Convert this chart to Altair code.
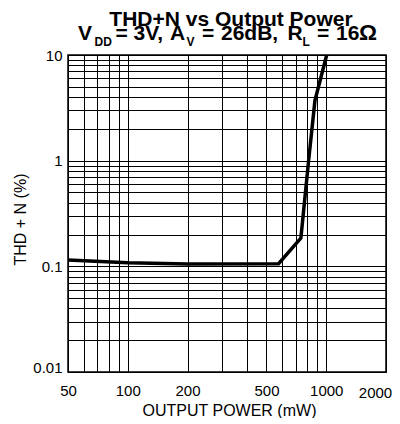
import altair as alt
import pandas as pd

# ---- data ----
power_mw = [50, 100, 200, 575, 745, 815, 877, 1005]
thd_pct = [0.115, 0.108, 0.105, 0.106, 0.185, 1.0, 3.7, 10.0]

x_grid = [50, 60, 70, 80, 90, 100, 200, 300, 400, 500, 600, 700, 800, 900, 1000, 2000]
x_labels = [50, 100, 200, 500, 1000, 2000]
y_grid = [0.01, 0.02, 0.03, 0.04, 0.05, 0.06, 0.07, 0.08, 0.09,
          0.1, 0.2, 0.3, 0.4, 0.5, 0.6, 0.7, 0.8, 0.9,
          1, 2, 3, 4, 5, 6, 7, 8, 9, 10]
y_labels = [0.01, 0.1, 1, 10]

title_line1 = "THD+N vs Output Power"
title2_text = ["V", "DD", "=", "3V,", "A", "V", "=", "26dB,", "R", "L", "=", "16", "Ω"]
title2_sub = [False, True, False, False, False, True, False, False, False, True, False, False, False]

x_title = "OUTPUT POWER (mW)"
y_title = "THD + N (%)"

# ---- layout (pixels, relative to plot origin) ----
title2_x = [10, 26.5, 47.5, 65.5, 102, 118.5, 134, 153, 219.5, 234.5, 249, 268, 291]
title2_size = [21, 12, 21, 21, 21, 12, 21, 21, 21, 12, 21, 21, 22.5]
FONT = "Liberation Sans, Arial, Helvetica, sans-serif"

df = pd.DataFrame({"power": power_mw, "thd": thd_pct})

x_label_list = ",".join(str(v) for v in x_labels)
y_label_list = ",".join(str(v) for v in y_labels)

x_axis = alt.Axis(
    values=x_grid,
    labelExpr=f"indexof([{x_label_list}], datum.value) >= 0 ? format(datum.value, '~g') : ''",
    title=x_title,
    titleFont=FONT, titleFontSize=16, titleFontWeight="normal", titleColor="black",
    titleX=161, titleY=43, titleBaseline="alphabetic", titleAlign="center",
    labelFont=FONT, labelFontSize=15, labelColor="black",
    labelBaseline="alphabetic",
    labelPadding={"condition": {"test": "datum.value === 2000", "value": 25}, "value": 23},
    labelOffset={"condition": {"test": "datum.value === 2000", "value": -11}, "value": 0},
    labelOverlap=False, labelFlush=False,
    ticks=False, domain=False,
    grid=True, gridColor="black", gridOpacity=1, gridWidth=1,
)

y_axis = alt.Axis(
    values=y_grid,
    labelExpr=f"indexof([{y_label_list}], datum.value) >= 0 ? format(datum.value, '~g') : ''",
    title=y_title,
    titleFont=FONT, titleFontSize=16, titleFontWeight="normal", titleColor="black",
    titleX=-43, titleY=164, titleAngle=270, titleBaseline="alphabetic", titleAlign="center",
    labelFont=FONT, labelFontSize=15, labelColor="black",
    labelBaseline="middle", labelPadding=6,
    labelOffset={"condition": {"test": "datum.value === 0.01", "value": -5}, "value": 0},
    labelOverlap=False, labelFlush=False,
    ticks=False, domain=False,
    grid=True, gridColor="black", gridOpacity=1, gridWidth=1,
)

line = alt.Chart(df).mark_line(color="black", strokeWidth=3.5, clip=True).encode(
    x=alt.X("power:Q", scale=alt.Scale(type="log", domain=[50, 2000], nice=False), axis=x_axis),
    y=alt.Y("thd:Q", scale=alt.Scale(type="log", domain=[0.01, 10], nice=False), axis=y_axis),
    order=alt.Order("power:Q"),
)

layers = [line]

layers.append(
    alt.Chart(alt.Data(values=[{}])).mark_text(
        text=title_line1, font=FONT, fontSize=21, fontWeight="bold", color="black",
        align="center", baseline="alphabetic",
    ).encode(x=alt.value(163), y=alt.value(-29.5))
)

for txt, sub, px, fs in zip(title2_text, title2_sub, title2_x, title2_size):
    layers.append(
        alt.Chart(alt.Data(values=[{}])).mark_text(
            text=txt, font=FONT, fontSize=fs, fontWeight="bold", color="black",
            align="left", baseline="alphabetic",
        ).encode(x=alt.value(px), y=alt.value(-9.5 if sub else -15))
    )

chart = alt.layer(*layers).properties(
    width=318, height=317,
    autosize=alt.AutoSizeParams(type="none"),
    padding={"left": 60, "top": 47, "right": 6, "bottom": 46},
).configure_view(stroke="black", strokeWidth=1.5)

chart.save("out.html", embed_options={"renderer": "svg", "actions": False})
